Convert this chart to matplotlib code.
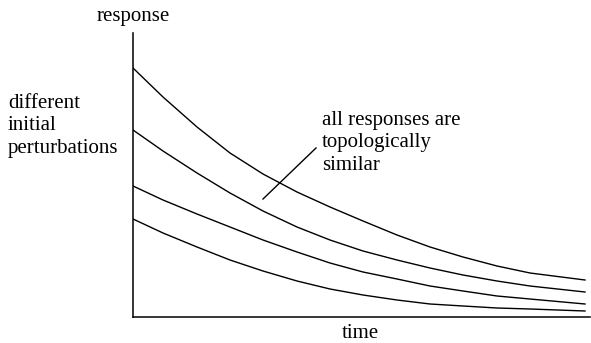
import matplotlib.pyplot as plt

plt.rcParams['font.family'] = ['Liberation Serif', 'DejaVu Serif']

# time samples along each curve (arbitrary units)
t = [0, 30, 64, 97, 130, 164, 197, 230, 264, 297, 330, 364, 397, 452]

# four responses starting from different initial perturbations
resp_a = [249, 220, 190, 164, 143, 125, 110, 96, 82, 70, 60, 51, 44, 37]
resp_b = [187, 166, 144, 124, 106, 90, 77, 66, 57, 49, 42, 36, 31, 25]
resp_c = [131, 117, 103, 90, 77, 65, 54, 45, 38, 31, 26, 21, 18, 13]
resp_d = [98, 84, 70, 57, 46, 36, 28, 22, 17, 13, 11, 9, 8, 6]

# pointer from the label down to the curves
pointer_x = [130, 183]
pointer_y = [118, 169]

fig = plt.figure(figsize=(5.91, 3.43), dpi=100)
ax = fig.add_axes([133 / 591, 26 / 343, 457 / 591, 284 / 343])

for r in (resp_a, resp_b, resp_c, resp_d):
    ax.plot(t, r, color='black', lw=1.0)

ax.plot(pointer_x, pointer_y, color='black', lw=1.0)

ax.set_xlim(0, 457)
ax.set_ylim(0, 284)
for s in ('top', 'right'):
    ax.spines[s].set_visible(False)
for s in ('left', 'bottom'):
    ax.spines[s].set_linewidth(1.1)
ax.set_xticks([])
ax.set_yticks([])

fs = 15
ax.text(0, 300, 'response', ha='center', va='center', fontsize=fs, clip_on=False)
ax.text(227, -16, 'time', ha='center', va='center', fontsize=fs, clip_on=False)
ax.text(-125, 191, 'different\ninitial\nperturbations', ha='left', va='center',
        fontsize=fs, linespacing=1.27, clip_on=False)
ax.text(189, 174, 'all responses are\ntopologically\nsimilar', ha='left', va='center',
        fontsize=fs, linespacing=1.27)

fig.savefig('out.png', dpi=100)
